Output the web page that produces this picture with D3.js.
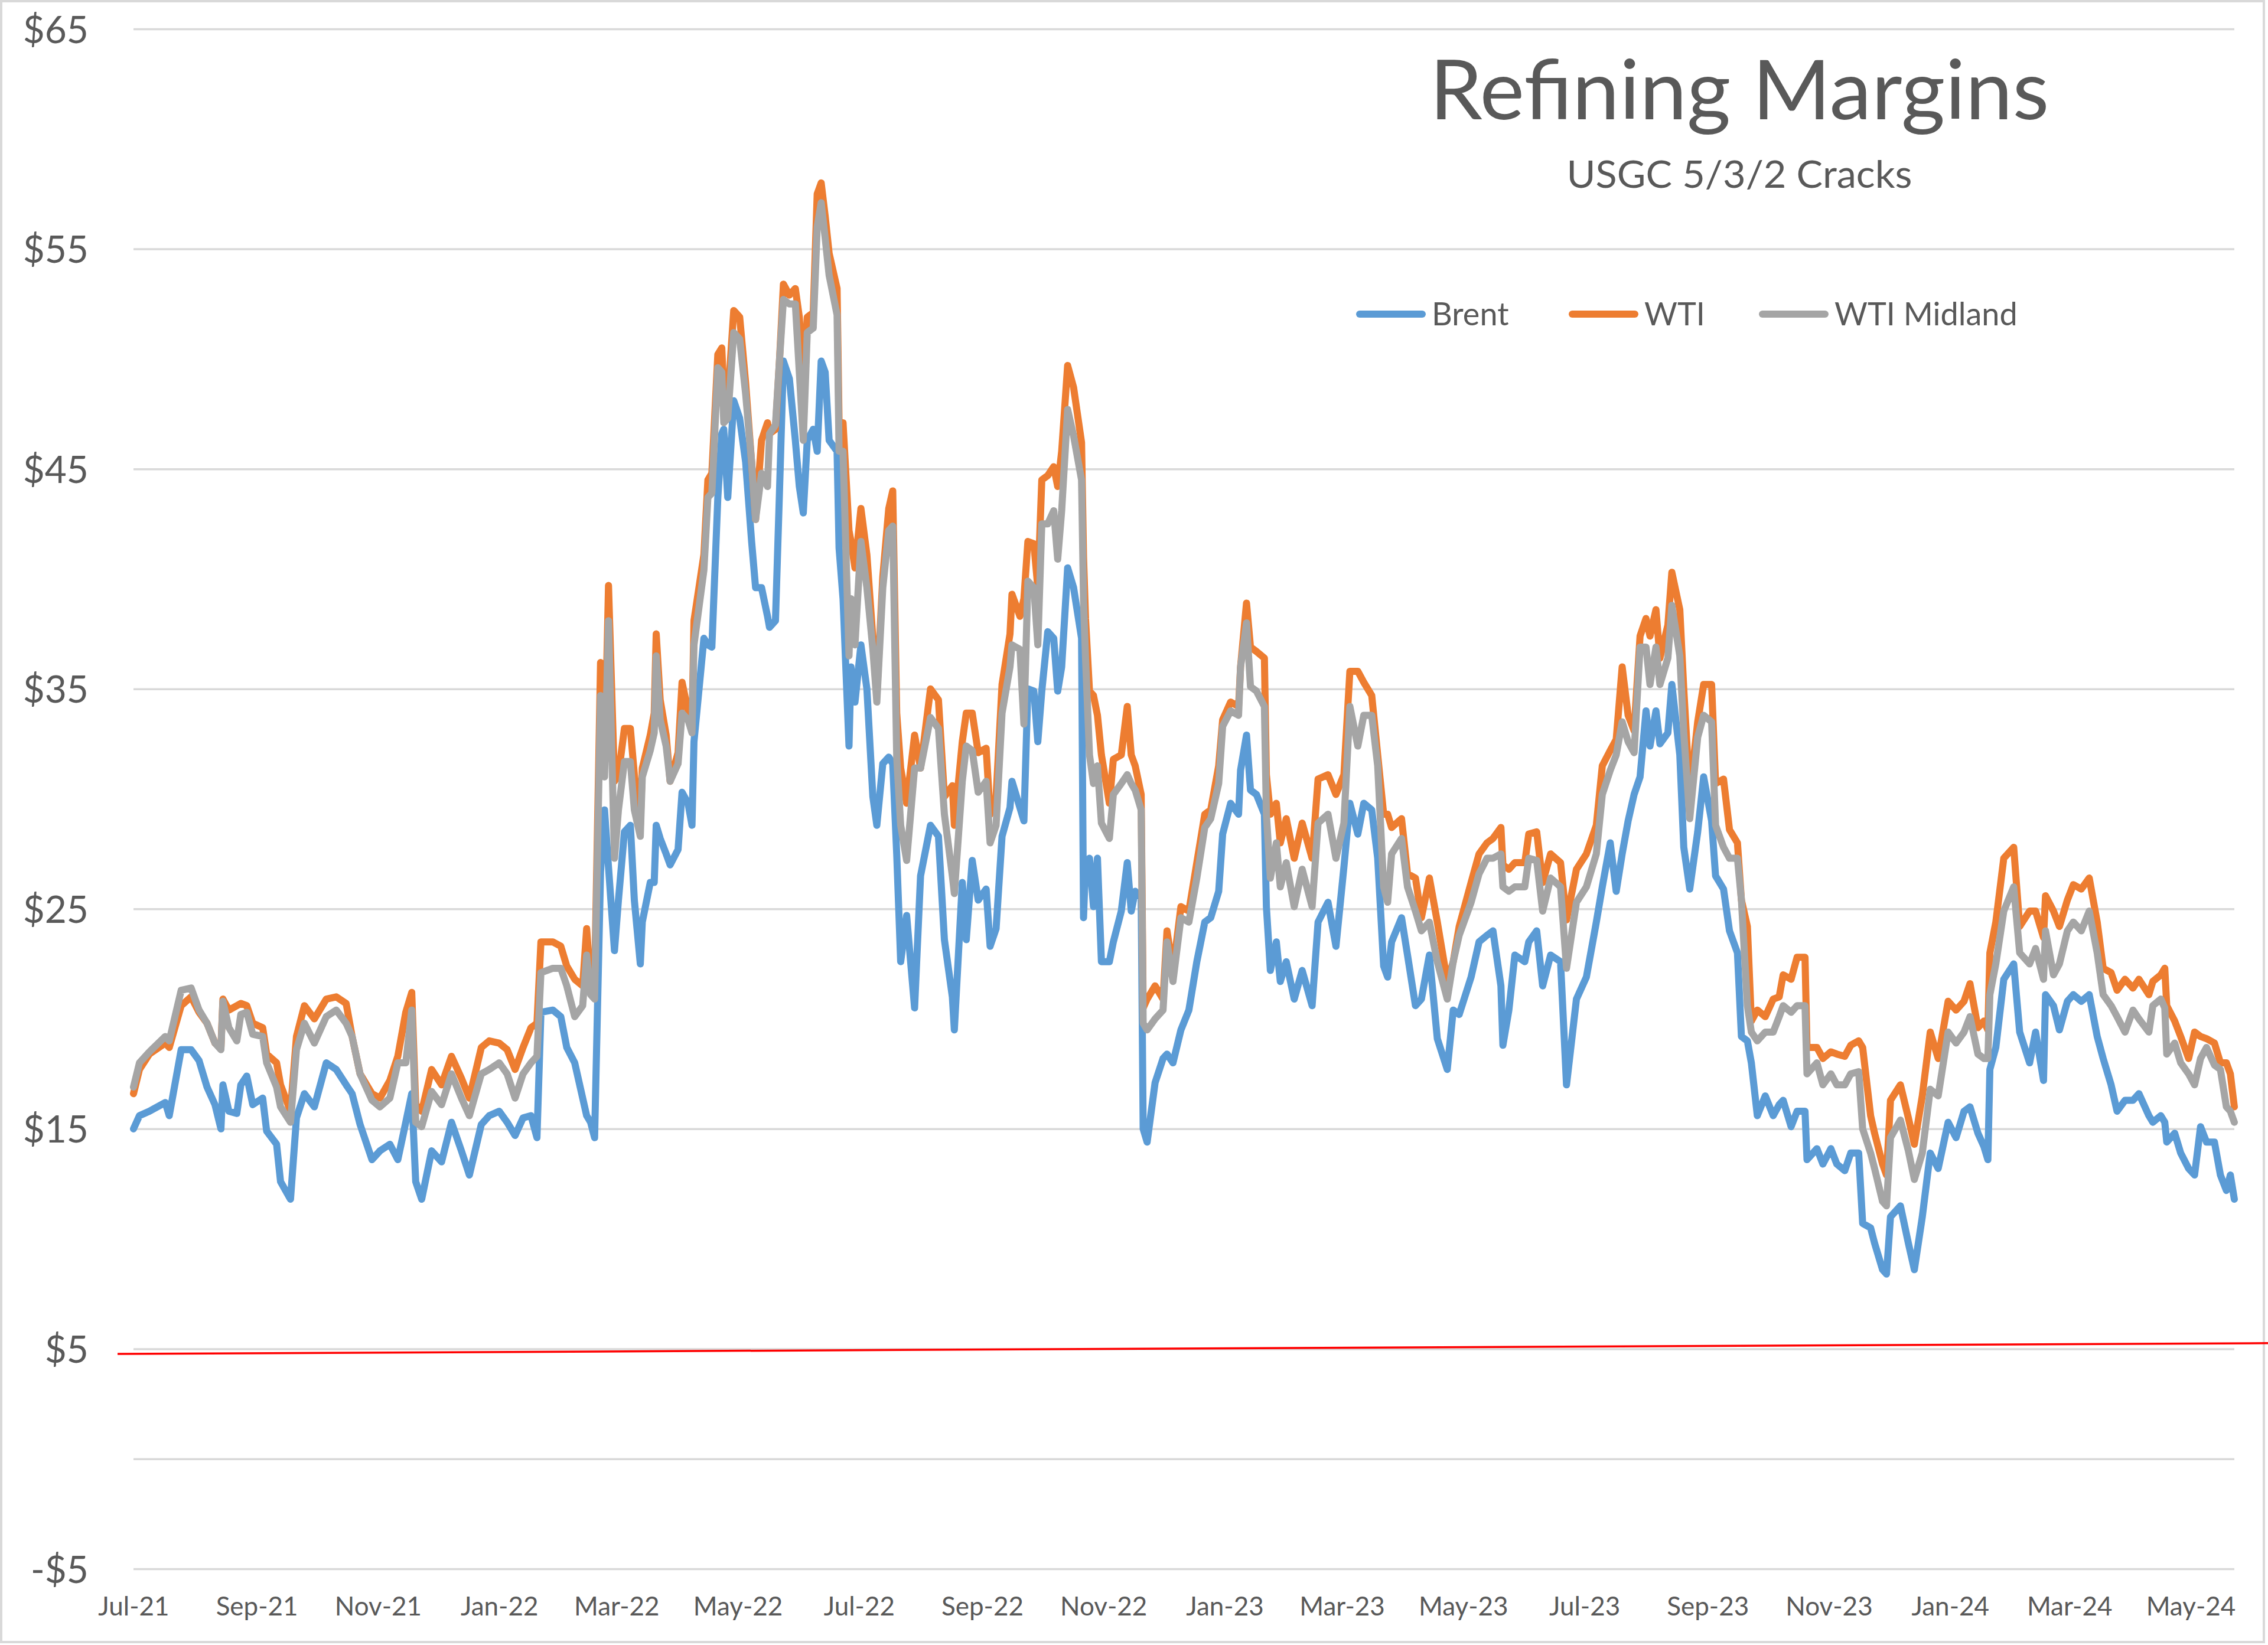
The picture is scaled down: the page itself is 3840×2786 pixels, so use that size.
<!DOCTYPE html>
<html>
<head>
<meta charset="utf-8">
<script src="https://cdn.jsdelivr.net/npm/d3@7"></script>
<style>
  html, body { margin: 0; padding: 0; background: #ffffff; }
  svg { display: block; }
</style>
</head>
<body>
<svg id="chart" width="3840" height="2786"></svg>
<script>
// ---------------- DATA ----------------
const startDate = new Date(2021, 6, 1); // Jul 1 2021
const endDayOffset = 1057;              // last observation (~May 23 2024)

// days since startDate
const dayOffsets = [
  0,3,8,16,18,24,29,33,37,41,
  44,45,48,52,54,57,60,65,67,72,
  74,79,82,86,91,97,102,107,110,114,
  120,124,129,133,137,140,142,145,150,155,
  160,165,169,175,179,184,188,192,196,200,
  203,205,211,215,218,222,226,228,230,232,
  235,237,239,242,244,247,250,252,255,256,
  260,262,263,265,268,270,274,276,279,281,
  282,287,289,291,294,296,297,299,302,305,
  308,311,313,316,319,320,323,325,327,330,
  333,335,337,339,342,344,346,348,350,354,
  355,357,360,361,363,366,369,372,374,377,
  380,382,384,386,389,393,396,401,405,408,
  412,413,417,419,422,425,429,431,434,437,
  441,442,446,448,450,453,455,457,460,463,
  465,467,470,473,477,478,479,481,483,485,
  487,491,493,497,500,502,504,507,508,510,
  514,518,520,523,527,531,535,539,542,546,
  548,552,556,557,560,562,565,569,570,572,
  575,577,580,584,588,593,596,601,605,609,
  612,616,619,623,626,629,631,633,638,641,
  645,648,652,656,661,664,667,673,677,681,
  684,688,689,692,695,700,702,706,709,713,
  718,721,726,731,736,739,743,746,749,752,
  755,758,761,763,766,768,772,774,778,780,
  783,787,790,794,796,800,803,807,809,812,
  814,817,821,825,828,830,834,837,841,842,
  847,850,854,857,861,864,868,870,874,876,
  880,882,884,889,893,896,900,904,908,913,
  917,921,924,928,931,933,934,937,941,946,
  949,954,957,961,962,966,969,973,976,980,
  984,988,991,995,998,1002,1006,1009,1014,1016,
  1020,1022,1023,1027,1030,1034,1037,1040,1043,1047,
  1050,1053,1055,1057
];

const brent = [
  15.0,15.6,15.8,16.2,15.6,18.6,18.6,18.1,16.9,16.1,
  15.0,17.0,15.8,15.7,17.0,17.4,16.1,16.4,14.9,14.3,
  12.6,11.8,15.5,16.6,16.0,18.0,17.7,17.0,16.6,15.2,
  13.6,14.0,14.3,13.6,15.3,16.6,12.6,11.8,14.0,13.5,
  15.3,14.0,12.9,15.2,15.6,15.8,15.3,14.7,15.5,15.6,
  14.6,20.3,20.4,20.1,18.7,18.0,16.4,15.6,15.3,14.6,
  26.7,29.5,26.9,23.1,25.4,28.5,28.8,25.4,22.5,24.4,
  26.2,26.2,28.8,28.2,27.5,27.0,27.7,30.3,29.8,28.8,
  32.6,37.3,37.0,36.9,43.7,46.6,46.8,43.7,48.1,47.3,
  45.3,41.7,39.6,39.6,38.3,37.8,38.1,43.9,49.9,49.1,
  46.3,44.2,43.0,46.3,46.8,45.8,49.9,49.4,46.3,45.8,
  41.4,39.1,32.4,36.0,34.4,37.0,35.0,30.1,28.8,31.6,
  31.9,31.6,27.5,22.6,24.7,20.5,26.5,28.8,28.3,23.6,
  21.0,19.5,26.2,23.6,27.2,25.4,25.9,23.3,24.1,28.3,
  29.6,30.8,29.6,29.0,35.0,34.9,32.6,34.9,37.6,37.3,
  34.9,36.0,40.5,39.6,37.3,24.6,27.1,27.3,25.1,27.3,
  22.6,22.6,23.5,24.9,27.1,24.9,25.8,25.5,15.0,14.4,
  17.1,18.2,18.4,18.0,19.5,20.4,22.6,24.4,24.6,25.8,
  28.4,29.8,29.3,31.3,32.9,30.4,30.2,29.3,25.1,22.2,
  23.5,21.7,22.6,20.9,22.2,20.6,24.4,25.3,23.3,26.9,
  29.8,28.4,29.8,29.5,27.3,22.4,21.9,23.5,24.6,22.9,
  20.6,20.9,22.9,19.1,17.7,20.4,20.2,21.9,23.5,23.8,
  24.0,21.5,18.8,20.4,22.9,22.6,23.5,24.0,21.5,22.9,
  22.6,17.0,20.9,21.9,24.4,26.0,28.0,25.8,27.5,29.0,
  30.2,31.0,34.0,32.4,34.0,32.5,33.0,35.2,32.0,27.8,
  25.9,28.5,31.0,29.0,26.5,25.9,24.0,23.0,19.2,19.0,
  18.0,15.6,16.5,15.6,16.1,16.3,15.1,15.8,15.8,13.6,
  14.1,13.4,14.1,13.4,13.1,13.9,13.9,10.7,10.5,9.8,
  8.6,8.4,11.0,11.5,9.8,8.6,11.0,13.9,13.2,15.3,
  14.6,15.8,16.0,14.8,14.2,13.6,17.7,18.7,21.8,22.5,
  19.4,18.0,19.4,17.2,21.1,20.6,19.5,20.8,21.1,20.8,
  21.1,19.2,18.2,17.0,15.8,16.3,16.3,16.6,15.6,15.3,
  15.6,15.3,14.4,14.8,13.9,13.2,12.9,15.1,14.4,14.4,
  12.9,12.2,12.9,11.8
];

const wti = [
  16.6,17.7,18.4,18.9,18.7,20.6,21.0,20.3,19.8,18.9,
  18.7,20.9,20.4,20.6,20.7,20.6,19.8,19.6,18.4,18.0,
  17.0,15.8,19.2,20.6,20.0,20.9,21.0,20.7,19.2,17.5,
  16.6,16.4,17.2,18.3,20.3,21.2,16.1,15.8,17.7,17.0,
  18.3,17.3,16.4,18.7,19.0,18.9,18.6,17.7,18.7,19.6,
  19.8,23.5,23.5,23.3,22.4,21.8,21.5,24.1,21.6,21.6,
  36.2,31.5,39.7,30.8,31.1,33.2,33.2,31.1,28.8,31.4,
  32.9,33.9,37.5,34.5,32.9,30.8,32.1,35.3,34.0,33.2,
  38.1,41.1,44.5,44.8,50.2,50.5,48.4,48.1,52.2,51.9,
  48.9,45.3,42.7,46.3,47.1,46.6,46.8,49.9,53.4,52.9,
  53.2,51.9,49.1,51.9,52.1,57.5,58.0,56.5,54.8,53.2,
  47.1,47.1,42.2,41.7,40.5,43.2,41.1,37.3,34.7,40.1,
  43.2,44.0,33.9,31.4,29.8,32.9,31.4,35.0,34.5,30.1,
  30.6,28.8,32.6,33.9,33.9,32.1,32.3,29.3,30.1,35.2,
  37.5,39.3,38.3,39.1,41.7,41.6,39.6,44.5,44.7,45.1,
  44.2,45.8,49.7,48.7,46.2,41.0,38.2,34.9,34.7,33.8,
  32.0,29.8,31.8,32.0,34.2,32.0,31.5,30.2,20.5,20.9,
  21.5,20.9,24.0,22.2,25.1,24.9,27.1,29.3,29.5,31.5,
  33.6,34.4,34.2,36.0,38.9,36.9,36.7,36.4,31.1,29.3,
  29.8,28.0,29.1,27.3,28.9,27.3,30.9,31.1,30.2,31.1,
  35.8,35.8,35.3,34.7,32.0,29.3,29.3,28.7,29.1,26.6,
  26.4,24.6,26.4,24.4,21.7,22.6,24.2,26.2,27.5,28.0,
  28.2,28.7,27.0,26.8,27.1,27.1,28.4,28.5,26.2,27.5,
  27.1,24.5,26.8,27.5,28.8,31.5,32.2,32.7,36.0,33.8,
  33.1,37.4,38.2,37.4,38.6,36.4,37.9,40.3,38.6,35.0,
  30.2,33.5,35.2,35.2,30.7,30.9,28.6,28.0,25.4,24.2,
  19.9,20.4,20.1,20.9,21.0,22.0,21.8,22.8,22.8,18.7,
  18.7,18.2,18.5,18.4,18.3,18.8,19.0,18.7,15.6,14.8,
  13.4,12.9,16.3,17.0,15.5,14.3,16.5,19.4,18.2,20.8,
  20.4,20.8,21.6,19.6,19.9,19.5,23.0,24.4,27.3,27.8,
  24.2,24.9,24.9,23.7,25.6,24.9,24.2,25.4,26.1,25.9,
  26.4,24.4,22.3,22.1,21.3,21.8,21.4,21.8,21.1,21.7,
  22.0,22.3,20.6,19.9,19.2,18.2,19.4,19.2,19.1,18.9,
  18.0,18.0,17.5,16.0
];

const wtiMidland = [
  16.9,18.0,18.5,19.2,19.0,21.3,21.4,20.4,19.8,18.9,
  18.6,20.8,19.6,19.0,20.2,20.3,19.3,19.2,18.0,16.9,
  16.0,15.3,18.6,19.8,18.9,20.1,20.4,19.8,19.2,17.5,
  16.3,16.0,16.4,18.0,18.0,20.4,15.3,15.1,16.7,16.1,
  17.5,16.4,15.6,17.5,17.7,18.0,17.5,16.4,17.5,18.0,
  18.3,22.1,22.3,22.3,21.5,20.1,20.6,22.9,21.1,20.9,
  34.7,31.0,38.1,27.3,29.5,31.7,31.7,29.5,28.3,31.0,
  32.2,33.0,36.5,33.6,32.4,30.8,31.6,33.9,33.6,33.0,
  37.0,40.4,43.7,43.9,49.6,49.4,47.1,47.3,51.2,50.9,
  48.4,45.3,42.7,44.8,44.2,46.6,47.0,49.9,52.7,52.5,
  52.5,49.4,46.3,51.2,51.4,56.0,57.1,55.5,53.8,52.0,
  45.8,45.8,36.5,39.1,37.0,41.7,39.6,36.8,34.4,39.6,
  42.2,42.4,31.9,28.8,27.2,31.4,31.4,33.7,33.2,29.3,
  26.5,25.7,30.8,32.4,32.2,30.3,30.8,28.0,28.8,33.9,
  36.0,37.0,36.8,33.4,39.9,39.6,37.0,42.5,42.5,43.1,
  40.9,43.1,47.7,46.5,44.5,39.0,36.4,32.0,30.7,31.5,
  28.9,28.2,30.2,30.7,31.1,30.7,30.4,29.5,19.8,19.5,
  20.0,20.4,23.5,21.7,24.6,24.4,26.4,28.7,29.1,30.7,
  33.3,34.0,33.8,36.0,38.0,35.1,34.9,34.2,29.3,26.4,
  28.0,26.0,27.1,25.1,26.8,25.1,28.9,29.3,27.3,28.9,
  34.2,32.4,33.8,33.8,31.5,26.0,25.3,27.5,28.2,26.0,
  24.9,24.0,24.4,22.6,20.9,22.6,23.8,25.3,26.6,27.3,
  27.3,27.5,26.0,25.8,26.0,26.0,27.3,27.2,24.9,26.4,
  26.0,22.3,25.3,26.0,27.5,30.2,31.3,32.0,33.5,32.6,
  32.1,36.9,36.9,35.2,36.9,35.2,36.4,38.8,36.5,33.0,
  29.1,32.8,33.8,33.5,28.8,27.8,27.3,27.3,25.4,20.6,
  19.4,19.0,19.4,19.4,20.1,20.6,20.3,20.6,20.6,17.5,
  18.0,17.0,17.5,17.0,17.0,17.5,17.6,15.0,13.9,13.2,
  11.7,11.5,14.6,15.4,14.0,12.7,13.9,16.8,16.5,19.4,
  18.9,19.4,20.1,18.4,18.2,18.2,21.1,22.5,24.9,26.0,
  23.0,22.5,23.2,21.8,24.0,22.0,22.5,24.0,24.4,24.0,
  24.9,23.0,21.1,20.6,20.1,19.4,20.4,20.0,19.4,20.6,
  20.9,20.5,18.4,18.9,18.0,17.5,17.0,18.2,18.7,17.9,
  17.7,16.0,15.8,15.3
];

const seriesNames  = ["Brent", "WTI", "WTI Midland"];
const seriesColors = ["#5B9BD5", "#ED7D31", "#A5A5A5"];

const yTickValues = [-5, 5, 15, 25, 35, 45, 55, 65];
const xTickLabels = ["Jul-21","Sep-21","Nov-21","Jan-22","Mar-22","May-22","Jul-22","Sep-22",
  "Nov-22","Jan-23","Mar-23","May-23","Jul-23","Sep-23","Nov-23","Jan-24","Mar-24","May-24"];

// hand-drawn red reference line (day offset, value)
const refLineDays   = [-8, 1075];
const refLineValues = [4.77, 5.26];

const titleText    = "Refining Margins";
const subtitleText = "USGC 5/3/2 Cracks";

// ---------------- CHART ----------------
const plot = { left: 226, right: 3783, top: 49, bottom: 2657 };
const FONT = "Lato, 'Open Sans', 'Noto Sans', sans-serif";
const TEXT_COLOR = "#595959";
const GRID_COLOR = "#D9D9D9";

const svg = d3.select("#chart");

svg.append("rect")
  .attr("x", 2).attr("y", 2)
  .attr("width", 3831).attr("height", 2779)
  .attr("fill", "#ffffff")
  .attr("stroke", GRID_COLOR)
  .attr("stroke-width", 4);

const toDate = d => d3.timeDay.offset(startDate, d);

const x = d3.scaleTime()
  .domain([startDate, toDate(endDayOffset)])
  .range([plot.left, plot.right]);

const y = d3.scaleLinear()
  .domain([-5, 65])
  .range([plot.bottom, plot.top]);

// gridlines (major ticks + horizontal axis at 0)
const gridAxis = d3.axisLeft(y)
  .tickValues(yTickValues.concat([0]))
  .tickSize(-(plot.right - plot.left))
  .tickFormat("");
const gridG = svg.append("g")
  .attr("transform", `translate(${plot.left},0)`)
  .call(gridAxis);
gridG.select(".domain").remove();
gridG.selectAll(".tick line")
  .attr("stroke", GRID_COLOR)
  .attr("stroke-width", 3.5);

// y axis labels
const yAxis = d3.axisLeft(y)
  .tickValues(yTickValues)
  .tickSize(0)
  .tickPadding(0)
  .tickFormat(v => (v < 0 ? "-$" : "$") + Math.abs(v));
const yG = svg.append("g")
  .attr("transform", `translate(150,0)`)
  .call(yAxis)
  .attr("font-family", FONT)
  .attr("font-size", 64);
yG.select(".domain").remove();
yG.selectAll(".tick text").attr("fill", TEXT_COLOR).attr("dy", "0.36em");

// x axis labels
const parseTick = d3.timeParse("%b-%y");
const xAxis = d3.axisBottom(x)
  .tickValues(xTickLabels.map(parseTick))
  .tickSize(0)
  .tickPadding(4)
  .tickFormat(d3.timeFormat("%b-%y"));
const xG = svg.append("g")
  .attr("transform", `translate(0,2701)`)
  .call(xAxis)
  .attr("font-family", FONT)
  .attr("font-size", 44);
xG.select(".domain").remove();
xG.selectAll(".tick text").attr("fill", TEXT_COLOR);

// red reference line
svg.append("path")
  .datum(refLineDays.map((d, i) => ({ d, v: refLineValues[i] })))
  .attr("fill", "none")
  .attr("stroke", "#FF0000")
  .attr("stroke-width", 3.5)
  .attr("d", d3.line().x(p => x(toDate(p.d))).y(p => y(p.v)));

// series lines
const seriesValues = [brent, wti, wtiMidland];
const line = d3.line()
  .x(p => x(p.date))
  .y(p => y(p.v));

seriesValues.forEach((vals, si) => {
  const pts = dayOffsets.map((d, i) => ({ date: toDate(d), v: vals[i] }));
  svg.append("path")
    .datum(pts)
    .attr("fill", "none")
    .attr("stroke", seriesColors[si])
    .attr("stroke-width", 12)
    .attr("stroke-linejoin", "round")
    .attr("stroke-linecap", "round")
    .attr("d", line);
});

// title & subtitle
svg.append("text")
  .attr("x", 2945).attr("y", 202)
  .attr("text-anchor", "middle")
  .attr("font-family", FONT)
  .attr("font-size", 140)
  .attr("fill", TEXT_COLOR)
  .attr("textLength", 1049)
  .attr("lengthAdjust", "spacingAndGlyphs")
  .text(titleText);

svg.append("text")
  .attr("x", 2945).attr("y", 318)
  .attr("text-anchor", "middle")
  .attr("font-family", FONT)
  .attr("font-size", 64)
  .attr("fill", TEXT_COLOR)
  .attr("textLength", 585)
  .attr("lengthAdjust", "spacingAndGlyphs")
  .text(subtitleText);

// legend
const legendStarts = [2302, 2662, 2984];
const legendY = 532;
const legendG = svg.append("g");
seriesNames.forEach((name, i) => {
  legendG.append("line")
    .attr("x1", legendStarts[i]).attr("x2", legendStarts[i] + 106)
    .attr("y1", legendY).attr("y2", legendY)
    .attr("stroke", seriesColors[i])
    .attr("stroke-width", 12)
    .attr("stroke-linecap", "round");
  legendG.append("text")
    .attr("x", legendStarts[i] + 122)
    .attr("y", legendY + 19)
    .attr("font-family", FONT)
    .attr("font-size", 54)
    .attr("fill", TEXT_COLOR)
    .text(name);
});
</script>
</body>
</html>
